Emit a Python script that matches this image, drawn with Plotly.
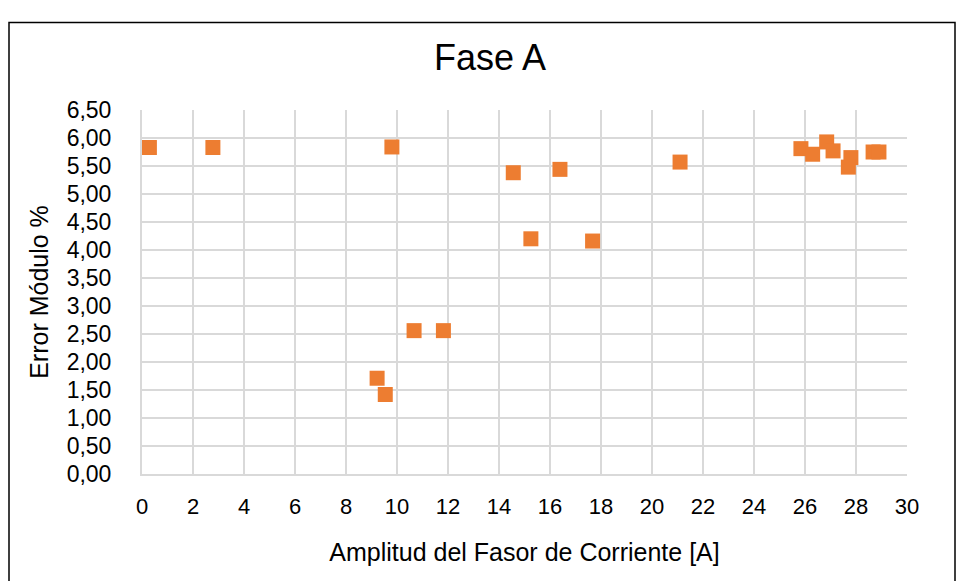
import plotly.graph_objects as go

# Current phasor amplitude [A] and magnitude error [%] for phase A
amplitud = [0.29, 2.78, 9.80, 10.67, 11.82, 9.22, 9.54, 14.56, 16.39, 15.25,
            17.67, 21.10, 25.84, 26.30, 26.85, 27.10, 27.80, 27.70, 28.67, 28.90]
error_modulo = [5.83, 5.83, 5.84, 2.56, 2.56, 1.71, 1.42, 5.38, 5.44, 4.20,
                4.16, 5.57, 5.81, 5.71, 5.93, 5.77, 5.65, 5.48, 5.75, 5.75]

x_ticks = list(range(0, 31, 2))
y_ticks = [i * 0.5 for i in range(14)]
y_tick_text = [f"{v:.2f}".replace(".", ",") for v in y_ticks]

W, H = 957, 581
L, R, T, B = 142, 50, 109.5, 107.3
pw, ph = W - L - R, H - T - B

font = "Arial, Liberation Sans, sans-serif"
grid = "#D9D9D9"

fig = go.Figure(
    go.Scatter(
        x=amplitud,
        y=error_modulo,
        mode="markers",
        marker=dict(symbol="square", size=15, color="#ED7D31",
                    line=dict(width=0)),
        hoverinfo="x+y",
    )
)

fig.update_layout(
    width=W,
    height=H,
    margin=dict(l=L, r=R, t=T, b=B, autoexpand=False),
    paper_bgcolor="white",
    plot_bgcolor="white",
    showlegend=False,
    font=dict(family=font, color="#000000"),
    title=dict(text="Fase A", x=490 / W, xref="container", xanchor="center",
               y=1 - 57 / H, yref="container", yanchor="middle",
               font=dict(size=36, family=font, color="#000000")),
    xaxis=dict(
        range=[0, 30], tickvals=x_ticks, ticktext=[str(v) for v in x_ticks],
        showgrid=True, gridcolor=grid, gridwidth=2,
        showline=True, linecolor=grid, linewidth=2,
        zeroline=False, ticks="", ticklabelstandoff=12,
        tickfont=dict(size=22, family=font, color="#000000"),
        title=dict(text="Amplitud del Fasor de Corriente [A]", standoff=25,
                   font=dict(size=25, family=font, color="#000000")),
    ),
    yaxis=dict(
        range=[0, 6.5], tickvals=y_ticks, ticktext=y_tick_text,
        showgrid=True, gridcolor=grid, gridwidth=2,
        showline=True, linecolor=grid, linewidth=2,
        zeroline=False, ticks="", ticklabelstandoff=24,
        tickfont=dict(size=23, family=font, color="#000000"),
        title=dict(text="Error Módulo %", standoff=11,
                   font=dict(size=25, family=font, color="#000000")),
    ),
    shapes=[
        dict(type="rect", xref="paper", yref="paper",
             x0=(9 - L) / pw, x1=(955 - L) / pw,
             y0=(H - 590 - B) / ph, y1=(H - 22 - B) / ph,
             line=dict(color="#000000", width=1.5), fillcolor="rgba(0,0,0,0)",
             layer="below"),
    ],
)

fig.write_html("out.html")
